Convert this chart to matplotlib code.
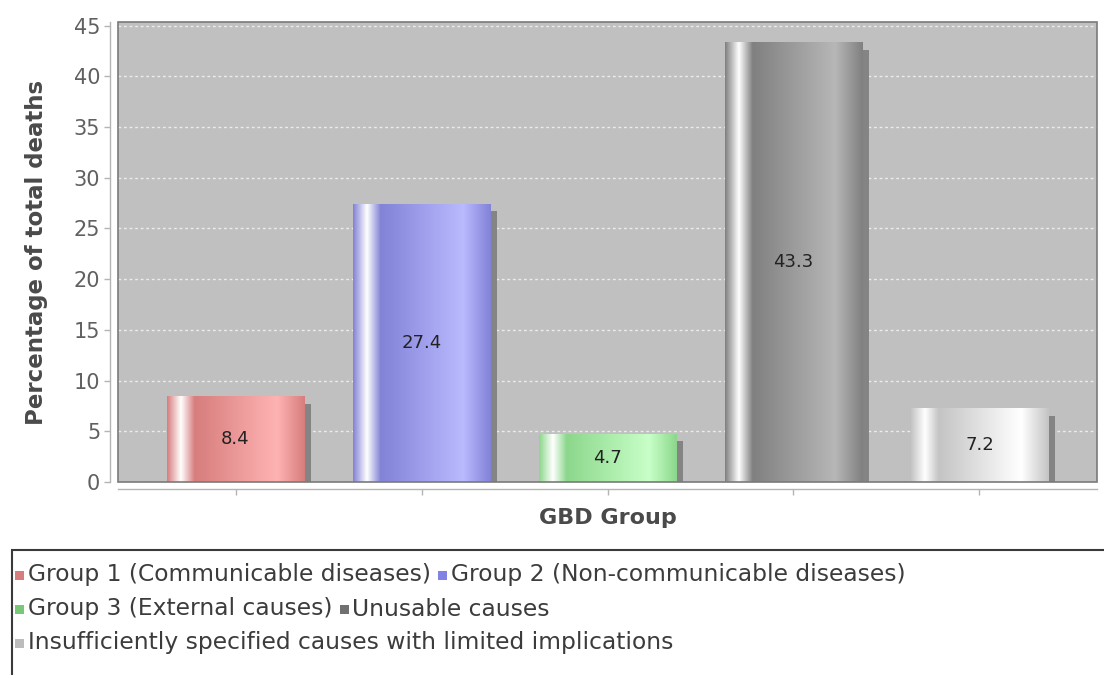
import matplotlib
matplotlib.use("Agg")
import matplotlib.pyplot as plt
import numpy as np
from matplotlib.colors import to_rgb
from matplotlib.patches import Rectangle
from matplotlib.transforms import ScaledTranslation

plt.rcParams['font.family'] = ['DejaVu Sans']

# ---- data ----
categories = [
    "Group 1 (Communicable diseases)",
    "Group 2 (Non-communicable diseases)",
    "Group 3 (External causes)",
    "Unusable causes",
    "Insufficiently specified causes with limited implications",
]
values = [8.4, 27.4, 4.7, 43.3, 7.2]
base_colors = ["#d77d7d", "#8282d7", "#8cd78c", "#808080", "#c4c4c4"]
legend_colors = ["#d77d7d", "#8282e6", "#78c878", "#707070", "#bcbcbc"]
y_ticks = [0, 5, 10, 15, 20, 25, 30, 35, 40, 45]
x_label = "GBD Group"
y_label = "Percentage of total deaths"

W, H = 1104, 675
fig = plt.figure(figsize=(W / 100, H / 100), dpi=100)
fig.patch.set_facecolor("white")

# plot area (pixel geometry of the frame)
px_left, px_right, px_top, px_bottom = 118, 1097, 22, 482
ax = fig.add_axes([px_left / W, 1 - px_bottom / H,
                   (px_right - px_left) / W, (px_bottom - px_top) / H])
ax.set_facecolor("#c0c0c0")


def bar_gradient(color, n=300):
    """Horizontal gradient: base -> white -> base -> brighter -> base."""
    c0 = np.array(to_rgb(color))
    c1 = np.minimum(c0 / 0.7, 1.0)
    white = np.ones(3)
    t = np.linspace(0, 1, n)
    out = np.empty((n, 3))
    for i, x in enumerate(t):
        if x < 0.10:
            f = x / 0.10
            out[i] = c0 + (white - c0) * f
        elif x < 0.20:
            f = (x - 0.10) / 0.10
            out[i] = white + (c0 - white) * f
        elif x < 0.80:
            f = (x - 0.20) / 0.60
            out[i] = c0 + (c1 - c0) * f
        else:
            f = (x - 0.80) / 0.20
            out[i] = c1 + (c0 - c1) * f
    return out[np.newaxis, :, :]


x = np.arange(len(values))
bar_w = 0.737
shadow_shift = ScaledTranslation(7 / 100, -7 / 100, fig.dpi_scale_trans)

for xi, v, col in zip(x, values, base_colors):
    shadow = Rectangle((xi - bar_w / 2, 0), bar_w, v, facecolor="#848484",
                       edgecolor="none", zorder=2,
                       transform=ax.transData + shadow_shift)
    ax.add_patch(shadow)
    ax.imshow(bar_gradient(col), extent=(xi - bar_w / 2, xi + bar_w / 2, 0, v),
              aspect="auto", interpolation="bilinear", zorder=3)
    ax.text(xi, v / 2, f"{v}", ha="center", va="center", fontsize=13,
            color="#222222", zorder=4)

ax.set_xlim(-0.632, len(values) - 1 + 0.632)
ax.set_ylim(0, 45.35)

# grid
ax.set_axisbelow(True)
ax.yaxis.grid(True, color="white", linestyle=(0, (2, 2)), linewidth=1.0, alpha=0.7)
ax.xaxis.grid(False)

# frame around the plot area
ax.add_patch(Rectangle((0, 0), 1, 1, transform=ax.transAxes, fill=False,
                       edgecolor="#7a7a7a", linewidth=1.2, zorder=6, clip_on=False))

# detached axis lines
for side in ("top", "right"):
    ax.spines[side].set_visible(False)
ax.spines["left"].set_position(("outward", 8 * 0.72))
ax.spines["bottom"].set_position(("outward", 7 * 0.72))
for side in ("left", "bottom"):
    ax.spines[side].set_color("#b4b4b4")
    ax.spines[side].set_linewidth(1.0)

ax.set_yticks(y_ticks)
ax.set_yticklabels([str(t) for t in y_ticks])
ax.set_xticks(x)
ax.set_xticklabels([""] * len(x))
ax.tick_params(axis="y", length=4, width=1, color="#b4b4b4", labelsize=15,
               labelcolor="#606060", pad=3)
ax.tick_params(axis="x", length=4, width=1, color="#b4b4b4")

ax.set_ylabel(y_label, fontsize=16.5, fontweight="semibold", color="#4a4a4a")
ax.yaxis.set_label_coords((48 - px_left) / (px_right - px_left), 0.5)
ax.set_xlabel(x_label, fontsize=16, fontweight="semibold", color="#4a4a4a", va="center")
ax.xaxis.set_label_coords(0.5, (px_bottom - 518) / (px_bottom - px_top))

# ---- legend box ----
fig.add_artist(Rectangle((12 / W, -0.05), 1.2, (1 - 550 / H) + 0.05,
                         transform=fig.transFigure, fill=False,
                         edgecolor="#3a3a3a", linewidth=1.5))

renderer = fig.canvas.get_renderer()
probe = fig.text(0, 0, categories[4], fontsize=14)
probe_w = probe.get_window_extent(renderer).width
probe.remove()
leg_fs = 14 * 645 / probe_w

rows = [[0, 1], [2, 3], [4]]
row_y = [575, 609, 643]
sq = 9
for items, ypx in zip(rows, row_y):
    xpx = 15
    for idx in items:
        fig.add_artist(Rectangle((xpx / W, 1 - (ypx + sq / 2) / H), sq / W, sq / H,
                                 transform=fig.transFigure,
                                 facecolor=legend_colors[idx], edgecolor="none"))
        xpx += sq + 4
        t = fig.text(xpx / W, 1 - ypx / H, categories[idx], fontsize=leg_fs,
                     color="#3c3c3c", va="center", ha="left")
        xpx += t.get_window_extent(renderer).width + 7

fig.savefig("out.png", dpi=100)
